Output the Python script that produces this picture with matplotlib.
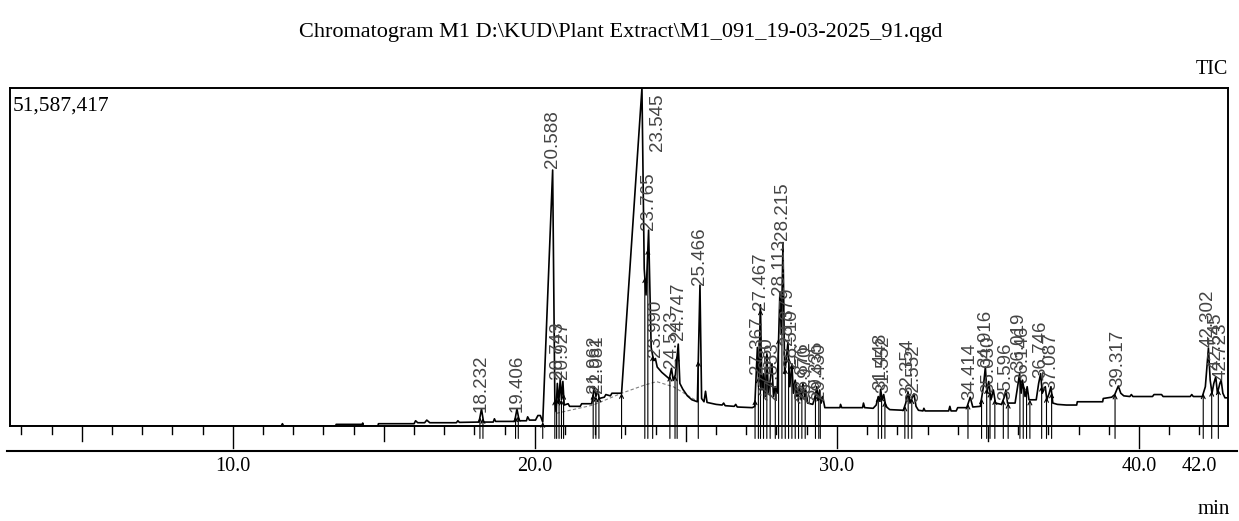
"""
GC-MS TIC chromatogram (M1 plant extract) redrawn with matplotlib.
"""
import matplotlib.pyplot as plt
import numpy as np
from matplotlib.lines import Line2D

W, H = 1239, 521

# trace vertices: retention time (min), TIC (x1e6 counts)
trace_t = [
    2.62, 11.60, 11.64, 11.68, 13.40, 13.42, 14.28, 14.30, 14.32, 14.80,
    14.82, 16.00, 16.05, 16.12, 16.35, 16.42, 16.52, 17.40, 17.45, 17.50,
    18.15, 18.232, 18.30, 18.62, 18.66, 18.70, 19.33, 19.406, 19.48, 19.72,
    19.76, 19.82, 20.02, 20.10, 20.18, 20.26, 20.588, 20.66, 20.70, 20.743,
    20.79, 20.84, 20.88, 20.927, 20.97, 21.10, 21.15, 21.50, 21.55, 21.88,
    21.92, 21.962, 22.02, 22.081, 22.13, 22.30, 22.35, 22.50, 22.55, 22.87,
    23.545, 23.62, 23.68, 23.765, 23.85, 23.93, 23.99, 24.05, 24.20, 24.35,
    24.45, 24.523, 24.58, 24.65, 24.747, 24.80, 24.90, 25.05, 25.20, 25.38,
    25.466, 25.52, 25.60, 25.65, 25.70, 26.00, 26.20, 26.25, 26.30, 26.60,
    26.65, 26.70, 27.20, 27.28, 27.367, 27.41, 27.467, 27.52, 27.58, 27.63,
    27.68, 27.73, 27.79, 27.85, 27.90, 27.96, 28.02, 28.113, 28.16, 28.215,
    28.27, 28.32, 28.379, 28.44, 28.51, 28.56, 28.62, 28.68, 28.76, 28.82,
    28.876, 28.93, 28.97, 29.03, 29.20, 29.28, 29.335, 29.38, 29.43, 29.48,
    29.53, 29.60, 30.10, 30.12, 30.16, 30.85, 30.88, 30.92, 31.20, 31.30,
    31.37, 31.42, 31.448, 31.50, 31.55, 31.62, 31.75, 32.20, 32.28, 32.354,
    32.42, 32.48, 32.552, 32.62, 32.70, 32.85, 32.88, 32.92, 33.70, 33.74,
    33.78, 33.95, 34.00, 34.30, 34.414, 34.50, 34.75, 34.85, 34.916, 34.97,
    35.03, 35.10, 35.18, 35.25, 35.45, 35.55, 35.596, 35.65, 35.90, 36.00,
    36.05, 36.10, 36.146, 36.23, 36.30, 36.36, 36.60, 36.68, 36.746, 36.80,
    36.90, 36.95, 37.03, 37.087, 37.15, 37.30, 37.60, 37.94, 37.96, 38.80,
    38.82, 39.10, 39.20, 39.317, 39.40, 39.50, 39.70, 39.75, 39.80, 40.45,
    40.50, 40.75, 40.80, 41.70, 41.75, 41.80, 42.10, 42.20, 42.302, 42.36,
    42.42, 42.48, 42.545, 42.60, 42.68, 42.723, 42.78, 42.85, 42.95,
]
trace_i = [
    0.0, 0.0, 0.35, 0.0, 0.0, 0.25, 0.25, 0.45, 0.0, 0.0,
    0.35, 0.35, 0.8, 0.5, 0.5, 0.9, 0.5, 0.5, 0.8, 0.55,
    0.6, 2.6, 0.6, 0.6, 1.1, 0.7, 0.7, 2.6, 0.8, 0.8,
    1.4, 0.9, 0.9, 1.6, 1.6, 0.6, 39.07, 4.0, 2.2, 6.5,
    3.5, 7.2, 4.0, 6.8, 3.2, 3.4, 3.0, 3.0, 3.4, 3.4,
    4.5, 6.0, 4.5, 5.5, 4.2, 4.4, 4.8, 4.6, 5.0, 5.0,
    51.59, 24.0, 20.0, 29.9, 12.0, 10.0, 10.3, 9.0, 8.2, 7.6,
    7.2, 8.8, 7.0, 7.8, 12.5, 6.5, 5.6, 4.6, 4.0, 3.7,
    21.5, 4.2, 3.7, 5.3, 3.6, 3.3, 3.2, 3.5, 3.1, 3.0,
    3.3, 2.9, 2.8, 3.0, 12.0, 6.0, 18.5, 5.5, 8.0, 4.5,
    11.0, 5.0, 7.0, 9.5, 4.5, 6.0, 5.0, 20.5, 14.0, 28.0,
    8.0, 10.0, 12.8, 6.0, 9.5, 5.0, 7.0, 4.5, 6.0, 4.0,
    6.5, 4.5, 5.5, 3.5, 3.3, 4.5, 6.0, 4.0, 5.5, 3.5,
    4.5, 2.8, 2.8, 3.3, 2.8, 2.8, 3.5, 2.8, 2.7, 3.2,
    4.5, 3.8, 5.6, 4.0, 4.8, 3.0, 2.5, 2.4, 3.5, 5.2,
    3.6, 4.2, 4.9, 3.0, 2.4, 2.3, 2.7, 2.3, 2.3, 3.0,
    2.3, 2.3, 2.8, 2.8, 4.4, 2.9, 3.0, 6.0, 9.0, 5.0,
    6.8, 4.0, 5.5, 3.5, 3.3, 4.5, 5.5, 3.5, 3.5, 6.5,
    8.0, 5.0, 7.0, 4.5, 6.0, 4.0, 4.0, 6.5, 8.0, 5.0,
    6.0, 4.0, 5.0, 6.0, 3.5, 3.3, 3.2, 3.2, 3.7, 3.7,
    4.2, 4.4, 4.8, 6.1, 5.0, 4.6, 4.5, 4.8, 4.5, 4.5,
    4.8, 4.8, 4.5, 4.5, 4.8, 4.5, 4.5, 6.0, 11.9, 7.0,
    5.0, 6.5, 7.5, 5.0, 6.5, 7.0, 5.0, 4.3, 4.3,
]
full_scale = 51.587417  # x1e6

# labelled peaks and the height their label stands on
peak_lbl = [
    "18.232", "19.406", "20.588", "20.743", "20.927", "21.962", "22.081",
    "23.545", "23.765", "23.990", "24.523", "24.747", "25.466",
    "27.367", "27.467", "27.680", "27.853", "28.113", "28.215", "28.379",
    "28.510", "28.876", "28.970", "29.335", "29.430", "31.448", "31.552",
    "32.354", "32.552", "34.414", "34.916", "35.030", "35.596", "36.019",
    "36.146", "36.746", "37.087", "39.317", "42.302", "42.545", "42.723",
]
peak_h = [
    1.8, 1.8, 39.07, 6.8, 6.8, 4.8, 4.8,
    51.59, 29.6, 10.2, 8.6, 12.8, 21.2,
    7.7, 17.4, 4.5, 3.7, 19.7, 28.1, 12.1,
    8.7, 3.7, 3.2, 4.0, 3.7, 5.2, 4.7,
    4.3, 3.3, 3.7, 8.7, 4.7, 3.7, 8.2,
    6.2, 7.0, 5.2, 5.7, 11.8, 8.2, 6.7,
]

# integration start/end marks
mark_t = [
    18.18, 18.28, 19.36, 19.45, 20.26, 20.66, 20.72, 20.80, 20.88, 20.95,
    21.93, 22.02, 22.12, 22.87, 23.64, 23.74, 23.90, 24.47, 24.64, 24.71,
    25.41, 27.29, 27.40, 27.47, 27.57, 27.68, 27.79, 27.96, 28.07, 28.18,
    28.29, 28.40, 28.51, 28.62, 28.73, 28.84, 28.95, 29.29, 29.40, 29.45,
    31.37, 31.48, 31.59, 32.25, 32.36, 32.48, 34.34, 34.79, 34.96, 35.07,
    35.23, 35.51, 35.67, 36.06, 36.17, 36.28, 36.39, 36.78, 36.94, 37.11,
    39.21, 42.13, 42.41, 42.63,
]

# dashed drift baseline under the main peaks
base_t = [20.72, 21.93, 22.87, 23.64, 24.03, 24.58, 25.41]
base_i = [1.94, 3.2, 5.0, 6.26, 6.77, 6.0, 3.7]

plt.rcParams["font.family"] = ["Liberation Serif", "DejaVu Serif"]

fig = plt.figure(figsize=(W / 100, H / 100), dpi=100)
fig.patch.set_facecolor("white")
ax = fig.add_axes([10 / W, 1 - 426 / H, 1218 / W, 338 / H])

ax.plot(trace_t, trace_i, color="black", linewidth=1.2, zorder=3)
ax.plot(base_t, base_i, color="#808080", linewidth=0.8, linestyle=(0, (3, 2)), zorder=2)
ax.set_xlim(2.62, 42.95)
ax.set_ylim(0, full_scale)
ax.set_xticks([])
ax.set_yticks([])
for sp in ax.spines.values():
    sp.set_linewidth(1.4)

# peak retention-time labels
lab_kw = dict(rotation=90, ha="center", fontsize=13.5, color="#444444",
              family=["Liberation Sans", "DejaVu Sans"], zorder=4)
for lbl, h in zip(peak_lbl, peak_h):
    rt = float(lbl)
    if h >= full_scale * 0.99:
        ax.text(rt + 0.52, full_scale * 0.985, lbl, va="top", **lab_kw)
    else:
        ax.text(rt, h + 0.3, lbl, va="bottom", **lab_kw)

# integration arrows from below the frame up to the trace
mark_h = np.interp(mark_t, trace_t, trace_i)
for t, h in zip(mark_t, mark_h):
    ax.annotate("", xy=(t, h), xytext=(t, -1.9), annotation_clip=False,
                arrowprops=dict(arrowstyle="->", lw=0.8, color="black",
                                shrinkA=0, shrinkB=0, mutation_scale=7))

# three-level time ticks
xt = ax.get_xaxis_transform()
for m in range(3, 43):
    ln = 0.065 if m % 10 == 0 else (0.044 if m % 5 == 0 else 0.024)
    ax.plot([m, m], [0, -ln], transform=xt, color="black", lw=1.0, clip_on=False)
for v in [10, 20, 30, 40, 42]:
    ax.text(v, -0.121, f"{v:.1f}", transform=xt, ha="center", va="center", fontsize=14.5)

fig.add_artist(Line2D([7 / W, 1237 / W], [1 - 451 / H, 1 - 451 / H], color="black", lw=1.5))

fig.text(621 / W, 1 - 33 / H, r"Chromatogram M1 D:\KUD\Plant Extract\M1_091_19-03-2025_91.qgd",
         ha="center", va="center", fontsize=16)
fig.text(1228 / W, 1 - 70 / H, "TIC", ha="right", va="center", fontsize=14.5)
fig.text(1230 / W, 1 - 510 / H, "min", ha="right", va="center", fontsize=15)
ax.text(0.002, 0.975, "51,587,417", transform=ax.transAxes, ha="left", va="top", fontsize=15.5)

fig.savefig("out.png", dpi=100, facecolor="white")
